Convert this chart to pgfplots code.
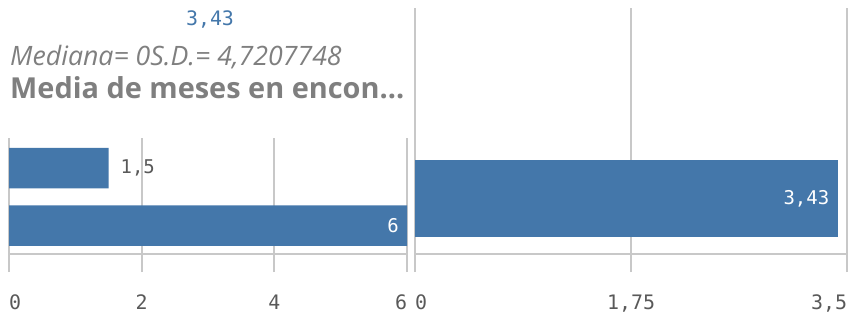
\documentclass[border=0pt]{standalone}
\usepackage{pgfplots}
\pgfplotsset{compat=1.18}
\usepackage{fontspec}
\setmainfont{Open Sans}
\newfontfamily\numfont{DejaVu Sans Mono}
\definecolor{qblue}{HTML}{4477AA}
\definecolor{gridc}{HTML}{C8C8C8}
\definecolor{txtc}{HTML}{7F7F7F}
\definecolor{tickc}{HTML}{595959}
\begin{document}
\begin{tikzpicture}[x=1bp,y=1bp]
\useasboundingbox (0,0) rectangle (849,314);
% titles
\node[anchor=base, text=qblue, inner sep=0pt, font=\numfont\fontsize{20}{20}\selectfont] at (210,289) {3,43};
\node[anchor=base west, text=txtc, inner sep=0pt, font=\itshape\fontsize{26.8}{27}\selectfont] at (10,249) {Mediana= 0S.D.= 4,7207748};
\node[anchor=base west, text=txtc, inner sep=0pt, font=\bfseries\fontsize{29}{29}\selectfont] at (10,216) {Media de meses en encon\ldots};
% left chart
\begin{axis}[
  at={(9bp,42bp)}, anchor=south west,
  scale only axis, width=398bp, height=134bp,
  xmin=0, xmax=6, ymin=42, ymax=176,
  xbar, bar width=40.5,
  axis line style={draw=none},
  xtick={0,2,4,6},
  xticklabels={\makebox[0pt][l]{0},2,4,\makebox[0pt][r]{6}},
  ytick=\empty,
  xmajorgrids, major grid style={gridc, line width=2bp},
  major tick length=0pt,
  xticklabel style={font=\numfont\fontsize{20}{20}\selectfont, text=tickc, anchor=north, inner sep=0pt, yshift=-23bp},
  clip=false,
]
\addplot[fill=qblue, draw=none] coordinates {(1.5,146) (6,88.5)};
\draw[gridc, line width=2bp] (axis cs:0,60) -- (axis cs:6,60);
\node[anchor=west, inner sep=0pt, xshift=12bp, text=tickc, font=\numfont\fontsize{19}{19}\selectfont] at (axis cs:1.5,146) {1,5};
\node[anchor=east, inner sep=0pt, xshift=-8bp, text=white, font=\numfont\fontsize{19}{19}\selectfont] at (axis cs:6,88.5) {6};
\end{axis}
% right chart
\begin{axis}[
  at={(415bp,42bp)}, anchor=south west,
  scale only axis, width=432bp, height=264bp,
  xmin=0, xmax=3.5, ymin=42, ymax=306,
  xbar, bar width=77,
  axis line style={draw=none},
  xtick={0,1.75,3.5},
  xticklabels={\makebox[0pt][l]{0},{1,75},\makebox[0pt][r]{3,5}},
  ytick=\empty,
  xmajorgrids, major grid style={gridc, line width=2bp},
  major tick length=0pt,
  xticklabel style={font=\numfont\fontsize{20}{20}\selectfont, text=tickc, anchor=north, inner sep=0pt, yshift=-23bp},
  clip=false,
]
\addplot[fill=qblue, draw=none] coordinates {(3.43,115.5)};
\draw[gridc, line width=2bp] (axis cs:0,60) -- (axis cs:3.5,60);
\node[anchor=east, inner sep=0pt, xshift=-9bp, text=white, font=\numfont\fontsize{19}{19}\selectfont] at (axis cs:3.43,115.5) {3,43};
\end{axis}
\end{tikzpicture}
\end{document}
